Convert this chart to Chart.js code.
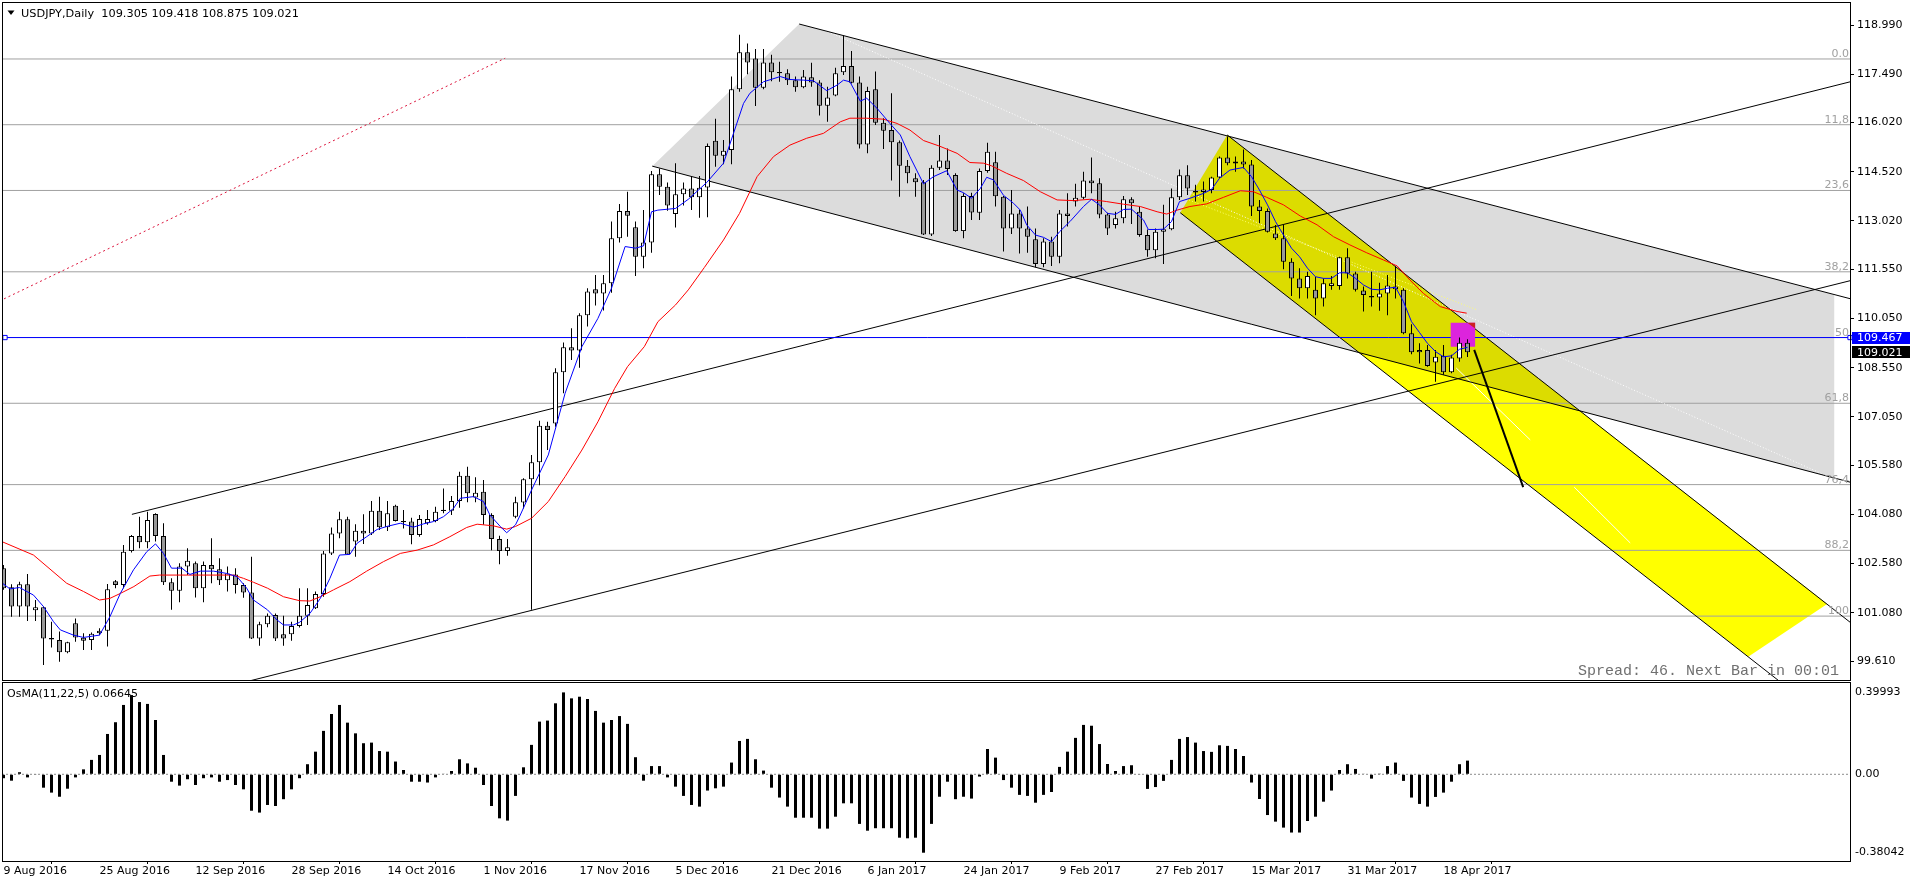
<!DOCTYPE html>
<html>
<head>
<meta charset="utf-8">
<title>USDJPY Daily</title>
<script src="https://cdn.jsdelivr.net/npm/chart.js@4.4.1/dist/chart.umd.min.js"></script>
<style>
  html, body { margin: 0; padding: 0; background: #fff; }
  #wrap { position: relative; width: 1910px; height: 884px; overflow: hidden; background: #fff; }
  #priceChart { position: absolute; left: 0; top: 0; }
  #oscChart { position: absolute; left: 0; top: 682px; }
</style>
</head>
<body>
<div id="wrap">
  <canvas id="priceChart" width="1910" height="682"></canvas>
  <canvas id="oscChart" width="1910" height="202"></canvas>
</div>
<script>
// ---- data (bar index 0 = 9 Aug 2016, daily bars) ----
const symbolTitle = 'USDJPY,Daily';

const opens = [102.44,101.86,101.27,101.95,101.16,101.25,100.31,100.25,99.88,100.76,
  100.32,100.25,100.53,100.53,102.04,101.93,102.96,103.42,103.23,104.09,
  103.42,102.01,101.75,102.49,102.59,101.83,102.54,102.41,102.07,102.25,
  101.93,101.70,100.30,100.73,101.01,100.43,100.43,100.68,100.99,101.22,
  101.65,102.89,103.50,103.93,103.25,103.58,103.50,104.19,103.69,104.34,
  103.88,103.86,103.45,103.81,103.88,104.18,104.19,104.49,105.26,104.59,
  104.77,104.06,103.33,102.96,104.01,104.44,105.15,105.67,106.78,106.85,
  108.41,109.17,109.07,110.15,110.94,110.81,111.12,112.49,113.32,112.83,
  111.93,112.36,114.44,114.06,113.23,113.83,114.01,113.74,114.04,115.46,
  115.01,115.18,117.03,118.16,117.97,117.08,117.85,117.56,117.52,117.31,
  117.09,117.40,117.24,116.53,116.84,117.55,117.74,117.24,115.35,117.03,
  116.01,115.79,115.42,114.70,114.32,114.20,112.61,114.64,114.86,114.42,
  112.71,113.78,113.27,114.54,114.81,113.76,112.79,113.25,112.79,112.46,
  111.71,112.39,111.93,113.25,113.61,113.73,114.25,114.17,113.22,112.90,
  113.10,113.68,113.30,112.59,112.13,112.69,112.77,113.74,114.41,113.93,
  113.90,113.96,114.34,114.95,114.83,114.83,114.74,113.46,113.32,112.64,
  112.49,111.78,111.27,110.97,110.92,110.66,111.04,111.04,111.91,111.42,
  110.90,110.73,110.69,110.81,110.94,110.92,109.60,109.09,109.09,108.71,
  108.91,108.41,108.83,109.305];

const highs = [102.54,101.95,102.03,102.26,101.47,101.27,100.81,100.51,100.20,100.91,
  100.46,100.48,100.61,101.96,102.08,103.15,103.45,104.01,104.16,104.11,
  103.81,102.13,102.59,103.05,102.64,102.64,103.35,102.74,102.49,102.44,
  101.98,102.79,100.81,101.06,101.06,100.99,100.81,101.83,101.83,101.73,
  102.96,103.68,104.16,104.01,103.78,104.08,104.49,104.62,104.49,104.37,
  104.21,103.98,104.06,104.21,104.31,104.87,104.64,105.38,105.53,105.21,
  105.13,104.11,103.43,103.33,104.62,105.18,105.89,106.93,106.90,108.53,
  109.32,109.75,110.21,110.97,111.37,111.37,113.00,113.54,113.91,113.00,
  113.35,114.54,114.62,114.19,114.78,114.19,114.39,114.39,115.38,116.13,
  115.49,117.42,118.69,118.43,118.26,118.26,118.08,117.87,117.64,117.42,
  117.62,117.84,117.31,117.11,117.69,118.67,118.20,117.42,117.11,117.57,
  116.15,116.91,115.47,114.88,114.47,114.27,114.72,115.64,115.23,114.47,
  113.86,113.88,114.62,115.40,115.13,113.78,113.96,113.35,113.46,112.79,
  112.49,112.54,113.35,113.86,114.15,114.52,114.95,114.32,113.27,113.30,
  113.78,113.74,113.46,112.76,112.79,113.51,114.01,114.59,114.72,114.12,
  114.22,114.37,114.98,115.59,114.98,115.20,114.88,113.66,113.40,112.90,
  112.90,111.88,111.58,111.47,111.32,111.27,111.34,111.93,112.19,111.47,
  111.02,111.47,111.14,111.37,111.63,110.97,109.87,109.29,109.24,109.09,
  109.24,108.94,109.47,109.418];

const lows = [101.78,100.96,100.96,100.83,100.83,99.49,100.02,99.59,99.85,100.20,
  99.95,99.95,100.40,100.05,101.83,101.83,102.92,103.05,103.05,103.25,
  101.93,101.17,101.40,102.23,101.55,101.40,101.98,101.93,101.73,101.67,
  101.54,100.28,100.08,100.64,100.22,100.08,100.23,100.63,100.71,101.20,
  101.57,102.84,103.35,102.84,102.79,103.18,103.45,103.60,103.57,103.86,
  103.65,103.17,103.40,103.76,103.84,104.11,104.06,104.28,104.45,104.45,
  103.76,102.99,102.56,102.82,103.96,104.26,101.17,104.97,106.04,106.75,
  107.77,108.78,108.55,109.80,110.44,110.29,110.83,112.36,112.54,111.34,
  111.58,112.05,113.81,113.33,112.82,113.49,113.35,113.12,113.13,114.67,
  114.75,114.75,116.96,117.49,116.52,117.03,117.28,117.26,117.16,116.96,
  117.06,117.11,116.23,116.04,116.82,117.47,117.21,115.23,115.08,115.94,
  115.21,114.25,113.76,114.17,113.76,112.59,112.56,114.57,114.42,112.69,
  112.49,113.05,113.05,114.49,113.46,112.09,112.62,112.03,112.05,111.61,
  111.61,111.65,111.73,112.85,113.46,113.68,113.86,113.10,112.59,112.79,
  112.95,112.93,112.54,111.93,111.88,111.71,112.74,113.66,113.81,113.61,
  113.61,113.86,114.32,114.72,114.52,114.62,113.17,112.95,112.67,112.44,
  111.55,110.73,110.66,110.66,110.15,110.41,110.92,110.92,111.27,110.87,
  110.26,110.41,110.28,110.15,110.66,109.57,108.96,108.68,108.58,108.12,
  108.33,108.38,108.73,108.875];

const closes = [101.83,101.27,101.95,101.27,101.25,100.30,100.27,99.88,100.18,100.33,
  100.23,100.44,100.46,101.80,101.93,102.94,103.42,103.23,103.91,103.42,
  102.01,101.75,102.49,102.67,101.83,102.54,102.41,102.07,102.28,101.93,
  101.70,100.30,100.73,100.99,100.30,100.30,100.68,100.99,101.32,101.65,
  102.89,103.50,103.93,102.86,103.58,103.50,104.19,103.69,104.11,103.88,
  103.84,103.45,103.94,103.94,104.16,104.22,104.49,105.26,104.72,104.74,
  104.06,103.33,102.96,103.08,104.45,105.15,105.67,106.78,106.65,108.41,
  109.17,109.07,110.15,110.87,110.81,111.12,112.49,113.32,113.18,111.93,
  112.36,114.44,114.06,113.49,113.83,114.01,113.74,114.03,115.30,115.01,
  115.16,117.03,118.16,117.85,117.08,117.85,117.55,117.52,117.31,117.09,
  117.42,117.24,116.53,116.78,117.52,117.74,117.23,115.35,116.98,116.01,
  115.77,115.42,114.70,114.47,114.20,112.61,114.64,114.86,114.60,112.71,
  113.78,113.28,114.54,115.13,113.77,112.79,113.25,112.79,112.54,111.71,
  112.39,111.93,113.25,113.17,113.73,114.25,114.17,113.22,112.79,113.10,
  113.68,113.56,112.59,112.13,112.69,112.77,113.74,114.41,114.01,113.89,
  113.98,114.34,114.95,114.78,114.77,114.74,113.46,113.32,112.69,112.49,
  111.78,111.27,110.97,111.34,110.66,111.12,111.12,111.91,111.42,110.92,
  110.76,110.69,110.81,111.05,111.02,109.60,109.02,109.02,108.60,108.88,
  108.41,108.86,109.31,109.021];

// fast (blue) and slow (red) moving averages, [bar, price]
const blueMa = [[-0.4,102.03],[0.8,101.81],[2,101.85],[3.75,101.62],[5,101.27],[6.25,100.81],[7.1,100.56],[8.75,100.40],
  [10,100.33],[12,100.40],[13.3,100.96],[14.6,101.67],[16.25,102.39],[17.9,102.94],[19,103.18],[20,102.89],[21,102.44],
  [22.3,102.44],[23.3,102.25],[24.6,102.35],[26.25,102.35],[27.9,102.28],[29.2,102.18],[30.4,101.83],[31.25,101.47],
  [33,101.17],[34.2,100.86],[35,100.71],[36.25,100.71],[37,100.79],[38.3,101.06],[39.6,101.52],[40.8,102.13],[42,102.84],
  [43.3,102.86],[44.2,103.20],[45.4,103.40],[46.7,103.62],[47.9,103.71],[49.6,103.81],[51.25,103.69],[52.5,103.79],
  [53.75,103.86],[55,104.01],[56.25,104.26],[57.1,104.57],[58.75,104.62],[60,104.47],[60.8,104.06],[62.1,103.71],
  [62.9,103.52],[64,103.76],[64.6,104.06],[66,104.82],[68.1,105.89],[70.2,107.77],[72.3,109.19],[74.3,110.05],[76,110.97],
  [77.7,112.24],[79,112.19],[80,112.26],[81,113.30],[81.8,113.35],[84,113.40],[85.6,113.68],[87.9,114.19],[90,114.78],
  [91.25,115.69],[92.5,116.60],[93.3,116.91],[95,117.26],[97.1,117.42],[98.3,117.33],[100,117.31],[101.25,117.29],
  [102.9,116.99],[104.2,117.16],[105,117.31],[105.8,117.26],[107.1,116.67],[107.9,116.76],[109.2,116.45],[110.8,115.99],
  [112.1,115.64],[113.3,114.98],[115,114.15],[116.25,114.37],[117.9,114.55],[119.2,113.96],[120,113.88],[121,113.71],
  [122.1,114.01],[122.9,114.35],[123.75,114.27],[125,113.80],[126.25,113.56],[127.1,113.35],[127.9,112.90],[129,112.59],
  [130,112.52],[131,112.39],[132,112.69],[133.3,113.00],[135,113.46],[136,113.68],[137,113.51],[138,113.25],[139,113.22],
  [140,113.37],[141,113.38],[142.5,113.05],[143.1,112.76],[144.2,112.76],[145,112.77],[146,113.00],[147,113.61],
  [148.3,113.71],[150,113.86],[151,113.98],[152,114.32],[153.3,114.57],[155,114.65],[156,114.37],[157,113.96],[158,113.51],
  [159,113.00],[160,112.59],[161,112.19],[162,111.93],[163,111.58],[164,111.32],[165,111.27],[166,111.27],[167,111.44],
  [168,111.44],[169,111.27],[170,111.07],[171,110.94],[172,110.92],[173,110.97],[174,111.00],[175,110.56],[176,109.95],
  [177,109.62],[178,109.29],[179,109.04],[180,108.88],[181,108.91],[182,109.11],[183,109.17]];

const redMa = [[-0.4,103.27],[3.75,102.84],[7.9,101.98],[10,101.73],[12,101.47],[13.3,101.52],[14.6,101.67],[16.3,101.88],
  [18.3,102.20],[19.5,102.23],[24.6,102.23],[28.75,102.23],[30,102.13],[31.25,102.01],[33,101.83],[35,101.57],[37,101.45],
  [38.3,101.44],[39.6,101.57],[41.25,101.78],[43.3,102.03],[45.4,102.35],[47.5,102.64],[49.6,102.89],[51.7,102.99],
  [53.75,103.15],[55.8,103.40],[57.9,103.68],[59.2,103.78],[61.25,103.73],[62.9,103.63],[64,103.71],[66,103.96],
  [68.1,104.47],[70.2,105.23],[72.3,106.04],[74.3,106.90],[76.4,107.92],[78,108.58],[80.1,109.19],[81.8,109.95],
  [84,110.46],[85.6,110.92],[87.6,111.60],[90,112.44],[92,113.25],[94.2,114.37],[96.25,114.98],[98.3,115.33],
  [100.4,115.54],[102.5,115.69],[104.6,116.04],[105.8,116.15],[107.9,116.15],[110,116.12],[111.7,115.99],[113.3,115.79],
  [115,115.47],[117,115.30],[119.2,115.08],[120.8,114.80],[122.5,114.78],[123.5,114.70],[125.4,114.47],[127.5,114.25],
  [129.6,113.91],[131.7,113.66],[133.75,113.64],[135.8,113.68],[137.9,113.61],[140,113.53],[142.1,113.46],[144.2,113.30],
  [145.4,113.23],[146.7,113.35],[148.3,113.46],[150.4,113.54],[152.5,113.74],[154.6,113.94],[156.25,113.91],
  [157.9,113.74],[160,113.51],[162.1,113.17],[164.2,112.90],[166.25,112.54],[168.3,112.29],[170.4,112.05],
  [172.5,111.83],[174.2,111.65],[175.8,111.22],[177.5,110.81],[179.6,110.41],[181.7,110.26],[182.9,110.21]];

// OsMA(11,22,5) histogram
const osmaLast = 0.06645;
const osma = [-0.019,-0.031,0.010,-0.015,-0.003,-0.065,-0.089,-0.109,-0.070,-0.015,
  0.024,0.070,0.094,0.196,0.253,0.337,0.385,0.351,0.342,0.264,
  0.094,-0.036,-0.055,-0.024,-0.052,-0.019,-0.015,-0.036,-0.028,-0.052,
  -0.073,-0.177,-0.186,-0.149,-0.154,-0.121,-0.073,-0.019,0.049,0.110,
  0.211,0.293,0.337,0.251,0.199,0.151,0.154,0.113,0.110,0.062,
  0.021,-0.036,-0.036,-0.040,-0.015,0.002,0.016,0.073,0.053,0.032,
  -0.052,-0.154,-0.214,-0.225,-0.105,0.034,0.143,0.256,0.261,0.345,
  0.398,0.369,0.377,0.366,0.308,0.251,0.264,0.283,0.245,0.083,
  -0.031,0.040,0.040,-0.015,-0.060,-0.105,-0.149,-0.157,-0.079,-0.068,
  -0.060,0.057,0.162,0.172,0.073,0.018,-0.065,-0.113,-0.157,-0.211,
  -0.211,-0.211,-0.264,-0.264,-0.206,-0.141,-0.141,-0.241,-0.274,-0.262,
  -0.262,-0.262,-0.308,-0.311,-0.308,-0.381,-0.241,-0.109,-0.036,-0.121,
  -0.109,-0.118,-0.011,0.123,0.081,-0.028,-0.065,-0.100,-0.105,-0.138,
  -0.100,-0.086,0.036,0.110,0.177,0.240,0.236,0.147,0.050,0.016,
  0.040,0.044,-0.002,-0.071,-0.062,-0.032,0.070,0.172,0.181,0.154,
  0.113,0.109,0.141,0.138,0.123,0.089,-0.040,-0.120,-0.198,-0.230,
  -0.259,-0.283,-0.283,-0.227,-0.206,-0.133,-0.079,0.021,0.049,0.026,
  0.002,-0.021,0.001,0.040,0.057,-0.032,-0.113,-0.144,-0.157,-0.110,
  -0.089,-0.036,0.049,osmaLast];

// axis ticks
const priceTicks = [118.99,117.49,116.02,114.52,113.02,111.55,110.05,108.55,107.05,105.58,104.08,102.58,101.08,99.61];
const osmaTicks = [0.39993, 0, -0.38042];
const dateTicks = [0,12,24,36,48,60,72,84,96,108,120,132,144,156,168,180];
const dateLabels = ['9 Aug 2016','25 Aug 2016','12 Sep 2016','28 Sep 2016','14 Oct 2016','1 Nov 2016',
  '17 Nov 2016','5 Dec 2016','21 Dec 2016','6 Jan 2017','24 Jan 2017','9 Feb 2017','27 Feb 2017',
  '15 Mar 2017','31 Mar 2017','18 Apr 2017'];

// Fibonacci retracement
const fibHigh = 117.955, fibLow = 100.98;
const fibLevels = [0, 11.8, 23.6, 38.2, 50, 61.8, 76.4, 88.2, 100];
const fibLabels = ['0.0','11,8','23,6','38,2','50','61,8','76,4','88,2','100'];

// drawn objects, [bar, price]
const hlinePrice = 109.467;
const grayChannel = [[99.46,119.02],[228.84,110.77],[228.84,105.18],[81.09,114.69],[99.46,119.02]];
const grayUpper = [[99.46,119.02],[230.84,110.65]];
const grayLower = [[81.09,114.69],[230.84,105.06]];
const yellowChannel = [[152.96,115.64],[227.96,101.35],[218.09,99.74],[147.09,113.27],[152.96,115.64]];
const yellowUpper = [[152.96,115.64],[230.84,100.79]];
const yellowLower = [[147.09,113.27],[224.59,98.50]];
const supportA = [[16.05,104.08],[230.84,117.26]];
const supportB = [[20,98.35],[230.84,111.20]];
const redDotted = [[-0.5,110.58],[62.71,117.98]];
const fibDiagonal = [[100.34,119.08],[228.2,105.22]];
const yellowMid = [[147.5,113.72],[184.2,110.31]];
const whiteSegs = [[181.59,108.54],[190.84,106.35],null,[196.34,104.91],[203.34,103.21]];
const arrowLine = [[183.84,109.09],[189.96,104.91]];
const boxRect = [[180.9,109.92],[183.95,109.92],[183.95,109.19],[180.9,109.19],[180.9,109.92]];
const boxCorner = [[182.97,109.92],[183.95,109.92],[183.95,109.74],[182.97,109.92]];

// ---- chart setup ----
const X_MIN = -0.1875, X_MAX = 230.8125;
const PRICE_MIN = 99.033, PRICE_MAX = 119.691;
const OSMA_MIN = -0.4213, OSMA_MAX = 0.4485;

Chart.defaults.font.family = '"DejaVu Sans", sans-serif';
Chart.defaults.font.size = 11;
Chart.defaults.color = '#000';

const toPts = pairs => pairs.map(p => p === null ? {x: null, y: null} : {x: p[0], y: p[1]});

function lineSet(label, pairs, color, extra) {
    return Object.assign({
        label: label,
        type: 'line',
        data: toPts(pairs),
        borderColor: color,
        borderWidth: 1,
        pointRadius: 0,
        fill: false,
        tension: 0,
        order: 25
    }, extra || {});
}

function shapeSet(label, pairs, color, order) {
    return {
        label: label,
        type: 'line',
        data: toPts(pairs),
        borderColor: 'rgba(0,0,0,0)',
        borderWidth: 0,
        backgroundColor: color,
        pointRadius: 0,
        fill: 'shape',
        tension: 0,
        order: order
    };
}

// keep the plot area exactly where the axes say, no extra label padding
function fixWidth(s) {
    s.width = 60;
    s.paddingTop = 0;
    s.paddingBottom = 0;
}

const fibPairs = [];
fibLevels.forEach(lv => {
    const p = fibHigh - lv / 100 * (fibHigh - fibLow);
    fibPairs.push([X_MIN, p], [X_MAX, p], null);
});

const priceOverlay = {
    id: 'priceOverlay',
    afterDatasetDraw(chart, args) {
        // yellow channel mixes with the gray one where they overlap
        const ds = chart.data.datasets[args.index];
        if (ds.label === 'grayChannel') chart.ctx.globalCompositeOperation = 'multiply';
        if (ds.label === 'yellowChannel') chart.ctx.globalCompositeOperation = 'source-over';
    },
    afterDraw(chart) {
        const ctx = chart.ctx;
        const a = chart.chartArea;
        const y = chart.scales.y;
        ctx.save();
        ctx.strokeStyle = '#000';
        ctx.lineWidth = 1;
        ctx.strokeRect(a.left + 0.5, a.top + 0.5, a.right - a.left, a.bottom - a.top);

        // fib level captions
        ctx.font = '11px "DejaVu Sans"';
        ctx.fillStyle = '#a0a0a0';
        ctx.textAlign = 'right';
        ctx.textBaseline = 'alphabetic';
        fibLevels.forEach((lv, k) => {
            const p = fibHigh - lv / 100 * (fibHigh - fibLow);
            ctx.fillText(fibLabels[k], a.right - 1, y.getPixelForValue(p) - 2);
        });

        // title
        ctx.fillStyle = '#000';
        ctx.beginPath();
        ctx.moveTo(7.5, 10.5); ctx.lineTo(14.5, 10.5); ctx.lineTo(11, 15); ctx.closePath();
        ctx.fill();
        ctx.font = '11.3px "DejaVu Sans"';
        ctx.textAlign = 'left';
        const last = opens.length - 1;
        const ohlc = [opens[last], highs[last], lows[last], closes[last]].map(v => v.toFixed(3)).join(' ');
        ctx.fillText(symbolTitle + '  ' + ohlc, 21, 17);

        // spread text
        ctx.font = '15px "Liberation Mono", monospace';
        ctx.fillStyle = '#707070';
        ctx.textAlign = 'right';
        ctx.fillText('Spread: 46. Next Bar in 00:01', 1839, 675);

        // price boxes on the axis
        ctx.font = '11px "DejaVu Sans"';
        ctx.textAlign = 'left';
        ctx.textBaseline = 'middle';
        const yb = y.getPixelForValue(hlinePrice);
        ctx.fillStyle = '#0000ff';
        ctx.fillRect(a.right + 2, Math.round(yb) - 6, 58, 12);
        ctx.fillStyle = '#fff';
        ctx.fillText(hlinePrice.toFixed(3), a.right + 7, yb + 0.5);
        const yc = y.getPixelForValue(closes[last]);
        ctx.fillStyle = '#000';
        ctx.fillRect(a.right + 2, Math.round(yc) - 6, 58, 12);
        ctx.fillStyle = '#fff';
        ctx.fillText(closes[last].toFixed(3), a.right + 7, yc + 0.5);
        ctx.restore();
    }
};

const bars = opens.map((o, i) => i);

new Chart(document.getElementById('priceChart'), {
    type: 'line',
    data: {
        datasets: [
            shapeSet('grayChannel', grayChannel, '#dcdcdc', 30),
            shapeSet('yellowChannel', yellowChannel, '#ffff00', 29),
            lineSet('fib', fibPairs, '#a0a0a0', {order: 28}),
            lineSet('fibDiagonal', fibDiagonal, '#ffffff', {borderDash: [1, 2], order: 27}),
            lineSet('yellowMid', yellowMid, '#ffff70', {borderDash: [1, 2], order: 27}),
            lineSet('whiteSegs', whiteSegs, '#ffffff', {order: 27}),
            lineSet('grayUpper', grayUpper, '#000'),
            lineSet('grayLower', grayLower, '#000'),
            lineSet('yellowUpper', yellowUpper, '#000'),
            lineSet('yellowLower', yellowLower, '#000'),
            lineSet('supportA', supportA, '#000'),
            lineSet('supportB', supportB, '#000'),
            lineSet('redDotted', redDotted, '#dc143c', {borderDash: [2, 3]}),
            lineSet('arrow', arrowLine, '#000', {borderWidth: 2}),
            {
                label: 'hline',
                type: 'line',
                data: [{x: X_MIN, y: hlinePrice}, {x: 0.19, y: hlinePrice}, {x: X_MAX, y: hlinePrice}],
                borderColor: '#0000ff',
                borderWidth: 1,
                pointRadius: [0, 3, 3],
                pointStyle: 'rect',
                pointBackgroundColor: '#ffffff',
                pointBorderColor: '#0000ff',
                pointBorderWidth: 1,
                clip: 4,
                order: 24
            },
            shapeSet('box', boxRect, '#dc24dc', 23),
            shapeSet('boxCorner', boxCorner, '#cc2222', 22),
            {
                label: 'wicks',
                type: 'bar',
                data: bars.map(i => ({x: i, y: [lows[i], highs[i]]})),
                backgroundColor: '#000',
                borderWidth: 0,
                barThickness: 1,
                grouped: false,
                inflateAmount: 0,
                order: 6
            },
            {
                label: 'bodies',
                type: 'bar',
                data: bars.map(i => ({x: i, y: [opens[i], closes[i]]})),
                backgroundColor: bars.map(i => closes[i] >= opens[i] ? '#ffffff' : '#999999'),
                borderColor: '#000',
                borderWidth: 1,
                borderSkipped: false,
                barThickness: 5,
                grouped: false,
                inflateAmount: 0,
                order: 5
            },
            lineSet('redMa', redMa, '#ff0000', {order: 4}),
            lineSet('blueMa', blueMa, '#0000ff', {order: 3})
        ]
    },
    options: {
        responsive: false,
        animation: false,
        devicePixelRatio: 1,
        events: [],
        layout: {autoPadding: false, padding: {left: 2, top: 2, right: 0, bottom: 2}},
        plugins: {legend: {display: false}, tooltip: {enabled: false}},
        scales: {
            x: {type: 'linear', min: X_MIN, max: X_MAX, display: false, offset: false},
            y: {
                type: 'linear',
                position: 'right',
                min: PRICE_MIN,
                max: PRICE_MAX,
                afterFit: fixWidth,
                afterBuildTicks: s => { s.ticks = priceTicks.map(v => ({value: v})); },
                ticks: {callback: v => Number(v).toFixed(3), padding: 3, autoSkip: false, color: '#000'},
                grid: {drawOnChartArea: false, drawTicks: true, tickLength: 4, color: '#000'},
                border: {display: true, color: '#000'}
            }
        }
    },
    plugins: [priceOverlay]
});

const oscOverlay = {
    id: 'oscOverlay',
    afterDraw(chart) {
        const ctx = chart.ctx;
        const a = chart.chartArea;
        ctx.save();
        ctx.strokeStyle = '#000';
        ctx.lineWidth = 1;
        ctx.strokeRect(a.left + 0.5, a.top + 0.5, a.right - a.left, a.bottom - a.top);
        ctx.fillStyle = '#000';
        ctx.font = '11px "DejaVu Sans"';
        ctx.textAlign = 'left';
        ctx.textBaseline = 'middle';
        ctx.fillText('OsMA(11,22,5) ' + osmaLast.toFixed(5), 7, 12);
        ctx.restore();
    }
};

new Chart(document.getElementById('oscChart'), {
    type: 'line',
    data: {
        datasets: [
            {
                label: 'zero',
                type: 'line',
                data: [{x: X_MIN, y: 0}, {x: X_MAX, y: 0}],
                borderColor: '#8c8c8c',
                borderWidth: 1,
                borderDash: [2, 2],
                pointRadius: 0,
                order: 2
            },
            {
                label: 'OsMA',
                type: 'bar',
                data: osma.map((v, i) => ({x: i, y: v})),
                backgroundColor: '#000',
                borderWidth: 0,
                barThickness: 3,
                grouped: false,
                inflateAmount: 0,
                order: 1
            }
        ]
    },
    options: {
        responsive: false,
        animation: false,
        devicePixelRatio: 1,
        events: [],
        layout: {autoPadding: false, padding: {left: 2, top: 0, right: 0, bottom: 0}},
        plugins: {legend: {display: false}, tooltip: {enabled: false}},
        scales: {
            x: {
                type: 'linear',
                min: X_MIN,
                max: X_MAX,
                offset: false,
                afterFit: s => { s.height = 23; s.paddingLeft = 0; s.paddingRight = 0; },
                afterBuildTicks: s => { s.ticks = dateTicks.map(v => ({value: v})); },
                ticks: {
                    align: 'start',
                    maxRotation: 0,
                    autoSkip: false,
                    padding: 1,
                    color: '#000',
                    callback: v => { const k = dateTicks.indexOf(v); return k >= 0 ? dateLabels[k] : ''; }
                },
                grid: {drawOnChartArea: false, drawTicks: true, tickLength: 3, color: '#000'},
                border: {display: true, color: '#000'}
            },
            y: {
                type: 'linear',
                position: 'right',
                min: OSMA_MIN,
                max: OSMA_MAX,
                afterFit: fixWidth,
                afterBuildTicks: s => { s.ticks = osmaTicks.map(v => ({value: v})); },
                ticks: {callback: v => v === 0 ? '0.00' : String(v), padding: 5, color: '#000'},
                grid: {drawOnChartArea: false, drawTicks: false},
                border: {display: true, color: '#000'}
            }
        }
    },
    plugins: [oscOverlay]
});
</script>
</body>
</html>
